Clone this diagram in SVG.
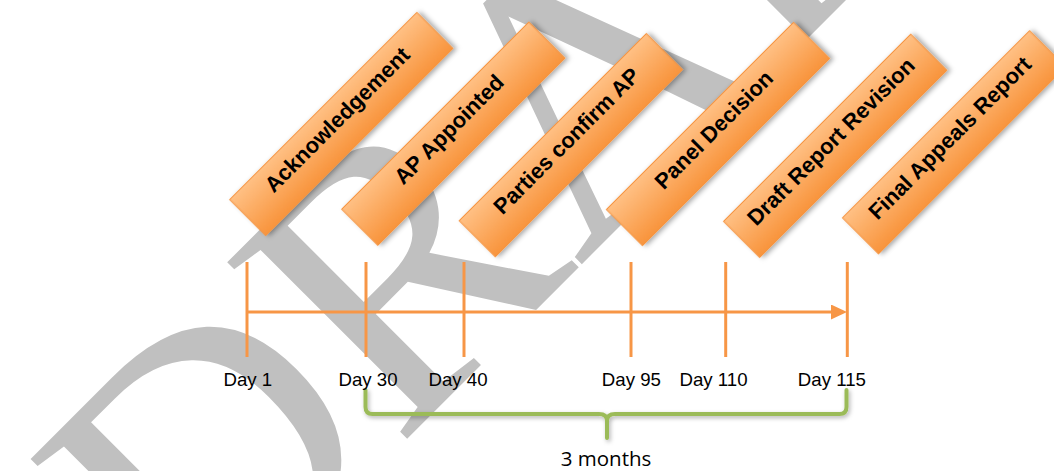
<svg xmlns="http://www.w3.org/2000/svg" width="1054" height="471" viewBox="0 0 1054 471">
  <defs>
    <style>
      .wm { font-family: "Liberation Serif", "Times New Roman", serif; font-size: 385px; fill: #c0c0c0; }
      .box { fill: url(#boxGrad); stroke: #f59440; stroke-width: 1; filter: url(#shadow); }
      .boxText { font-family: "Liberation Sans", Arial, sans-serif; font-weight: bold; font-size: 22px; fill: #000; text-anchor: middle; }
      .tl { stroke: #f79646; stroke-width: 3; fill: none; }
      .day { font-family: "Liberation Sans", Arial, sans-serif; font-size: 18.67px; fill: #000; }
      .brace { stroke: #9bbb59; stroke-width: 4; fill: none; stroke-linecap: round; stroke-linejoin: round; filter: url(#bshadow); }
      .months { font-family: "Open Sans", "Noto Sans", sans-serif; font-size: 20.5px; fill: #000; text-anchor: middle; }
    </style>
    <linearGradient id="boxGrad" x1="0" y1="0" x2="0" y2="1">
      <stop offset="0" stop-color="#ffc084"/>
      <stop offset="1" stop-color="#f8943c"/>
    </linearGradient>
    <filter id="shadow" x="-20%" y="-40%" width="140%" height="180%">
      <feDropShadow dx="2.5" dy="2.5" stdDeviation="2.5" flood-color="#000" flood-opacity="0.35"/>
    </filter>
    <filter id="bshadow" x="-5%" y="-50%" width="110%" height="200%">
      <feDropShadow dx="1.5" dy="2" stdDeviation="2" flood-color="#000" flood-opacity="0.3"/>
    </filter>
    <marker id="arrow" viewBox="0 0 16 15" markerWidth="16" markerHeight="15" refX="10" refY="7.5" markerUnits="userSpaceOnUse" orient="auto">
      <path d="M0,0 L16,7.5 L0,15 z" fill="#f79646"/>
    </marker>
  </defs>

  <g id="watermark">
    <text class="wm" transform="translate(201,645) rotate(-45)">DRAFT</text>
  </g>

  <g id="connectors">
    <line class="tl" x1="247" y1="312" x2="841" y2="312" marker-end="url(#arrow)"/>
    <line class="tl" x1="247" y1="262" x2="247" y2="357"/>
    <line class="tl" x1="366" y1="262" x2="366" y2="357"/>
    <line class="tl" x1="464" y1="262" x2="464" y2="357"/>
    <line class="tl" x1="631" y1="262" x2="631" y2="357"/>
    <line class="tl" x1="725.7" y1="262" x2="725.7" y2="357"/>
    <line class="tl" x1="847.3" y1="262" x2="847.3" y2="357"/>
    <path class="brace" d="M365.5,390 V407 Q365.5,414 372.5,414 H599 Q607,414 607,421 V438 M607,421 Q607,414 615,414 H839.5 Q846.5,414 846.5,407 V390"/>
  </g>

  <g id="node-acknowledgement" transform="translate(341.3,124) rotate(-45)">
    <rect class="box" x="-132.25" y="-25.5" width="264.5" height="51"/>
    <text class="boxText" x="0" y="1.5">Acknowledgement</text>
  </g>
  <g id="node-ap-appointed" transform="translate(453.3,133.7) rotate(-45)">
    <rect class="box" x="-132.25" y="-25.5" width="264.5" height="51"/>
    <text class="boxText" x="0" y="1.5">AP Appointed</text>
  </g>
  <g id="node-parties-confirm" transform="translate(570.8,145.2) rotate(-45)">
    <rect class="box" x="-132.25" y="-25.5" width="264.5" height="51"/>
    <text class="boxText" x="0" y="1.5">Parties confirm AP</text>
  </g>
  <g id="node-panel-decision" transform="translate(718,134) rotate(-45)">
    <rect class="box" x="-132.25" y="-25.5" width="264.5" height="51"/>
    <text class="boxText" x="0" y="1.5">Panel Decision</text>
  </g>
  <g id="node-draft-report" transform="translate(835.2,145.8) rotate(-45)">
    <rect class="box" x="-132.25" y="-25.5" width="264.5" height="51"/>
    <text class="boxText" x="0" y="1.5">Draft Report Revision</text>
  </g>
  <g id="node-final-report" transform="translate(954,142.3) rotate(-45)">
    <rect class="box" x="-132.25" y="-25.5" width="264.5" height="51"/>
    <text class="boxText" x="0" y="1.5">Final Appeals Report</text>
  </g>

  <g id="labels">
    <text class="day" x="223.5" y="385.5">Day 1</text>
    <text class="day" x="338.5" y="385.5">Day 30</text>
    <text class="day" x="428.5" y="385.5">Day 40</text>
    <text class="day" x="601.8" y="385.5">Day 95</text>
    <text class="day" x="679.5" y="385.5">Day 110</text>
    <text class="day" x="797.8" y="385.5">Day 115</text>
    <text class="months" x="606" y="465.5">3 months</text>
  </g>
</svg>
